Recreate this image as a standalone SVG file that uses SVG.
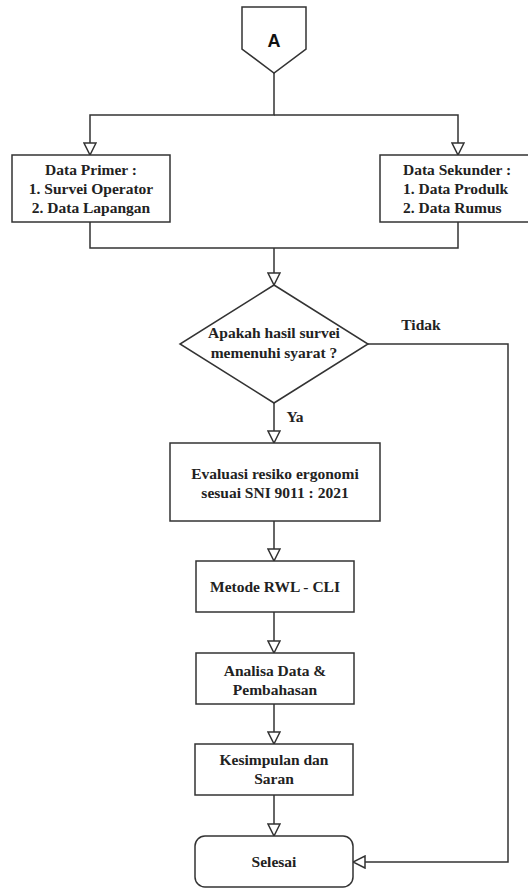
<svg xmlns="http://www.w3.org/2000/svg" width="528" height="888" viewBox="0 0 528 888">
<style>
.shape{fill:#fff;stroke:#333;stroke-width:1.5}
.conn{fill:none;stroke:#333;stroke-width:1.5}
.t{font-family:'Liberation Serif',Tinos,'Times New Roman','DejaVu Serif',serif;font-weight:bold;font-size:15.5px;fill:#222;text-anchor:middle}
.l{text-anchor:start}
.a{font-family:'Liberation Sans',Arial,sans-serif;font-weight:bold;font-size:18px;fill:#111;text-anchor:middle}
</style>
<defs>
<marker id="arr" markerUnits="userSpaceOnUse" markerWidth="14" markerHeight="14" viewBox="0 0 14 14" refX="13" refY="7" orient="auto">
<path d="M1,1 L13,7 L1,13 z" fill="#fff" stroke="#333" stroke-width="1.5"/>
</marker>
</defs>
<g id="connectors">
<path class="conn" d="M274,73 V115 H90 V155" marker-end="url(#arr)"/>
<path class="conn" d="M274,115 H458 V155" marker-end="url(#arr)"/>
<path class="conn" d="M90,222 V248 H458 V222"/>
<path class="conn" d="M274,248 V285" marker-end="url(#arr)"/>
<path class="conn" d="M274,403 V443" marker-end="url(#arr)"/>
<path class="conn" d="M274,521 V561" marker-end="url(#arr)"/>
<path class="conn" d="M274,612 V653" marker-end="url(#arr)"/>
<path class="conn" d="M274,704 V744" marker-end="url(#arr)"/>
<path class="conn" d="M274,795 V836" marker-end="url(#arr)"/>
<path class="conn" d="M368,344 H508 V862 H353" marker-end="url(#arr)"/>
<text class="t" x="421" y="330" font-family="Liberation Serif, serif">Tidak</text>
<text class="t" x="295" y="422" font-family="Liberation Serif, serif">Ya</text>
</g>
<g id="node-a">
<path class="shape" d="M242,7 H306 V49 L274,73 L242,49 Z"/>
<text class="a" x="274" y="47">A</text>
</g>
<g id="node-primer">
<rect class="shape" x="12" y="155" width="158" height="67"/>
<text class="t" x="91" y="175">Data Primer :</text>
<text class="t" x="91" y="194">1. Survei Operator</text>
<text class="t" x="91" y="213">2. Data Lapangan</text>
</g>
<g id="node-sekunder">
<rect class="shape" x="380" y="155" width="158" height="67"/>
<text class="t l" x="403" y="175">Data Sekunder :</text>
<text class="t l" x="403" y="194">1. Data Produlk</text>
<text class="t l" x="403" y="213">2. Data Rumus</text>
</g>
<g id="node-decision">
<path class="shape" d="M274,285 L368,344 L274,403 L180,344 Z"/>
<text class="t" x="274" y="338">Apakah hasil survei</text>
<text class="t" x="274" y="358">memenuhi syarat ?</text>
</g>
<g id="node-evaluasi">
<rect class="shape" x="170" y="443" width="210" height="78"/>
<text class="t" x="275" y="479">Evaluasi resiko ergonomi</text>
<text class="t" x="275" y="498">sesuai SNI 9011 : 2021</text>
</g>
<g id="node-metode">
<rect class="shape" x="196" y="561" width="158" height="51"/>
<text class="t" x="275" y="592">Metode RWL - CLI</text>
</g>
<g id="node-analisa">
<rect class="shape" x="196" y="653" width="158" height="51"/>
<text class="t" x="275" y="676">Analisa Data &amp;</text>
<text class="t" x="275" y="695">Pembahasan</text>
</g>
<g id="node-kesimpulan">
<rect class="shape" x="195" y="744" width="158" height="51"/>
<text class="t" x="274" y="765">Kesimpulan dan</text>
<text class="t" x="274" y="784">Saran</text>
</g>
<g id="node-selesai">
<rect class="shape" x="195" y="836" width="158" height="51" rx="10" ry="10"/>
<text class="t" x="274" y="867">Selesai</text>
</g>
</svg>
